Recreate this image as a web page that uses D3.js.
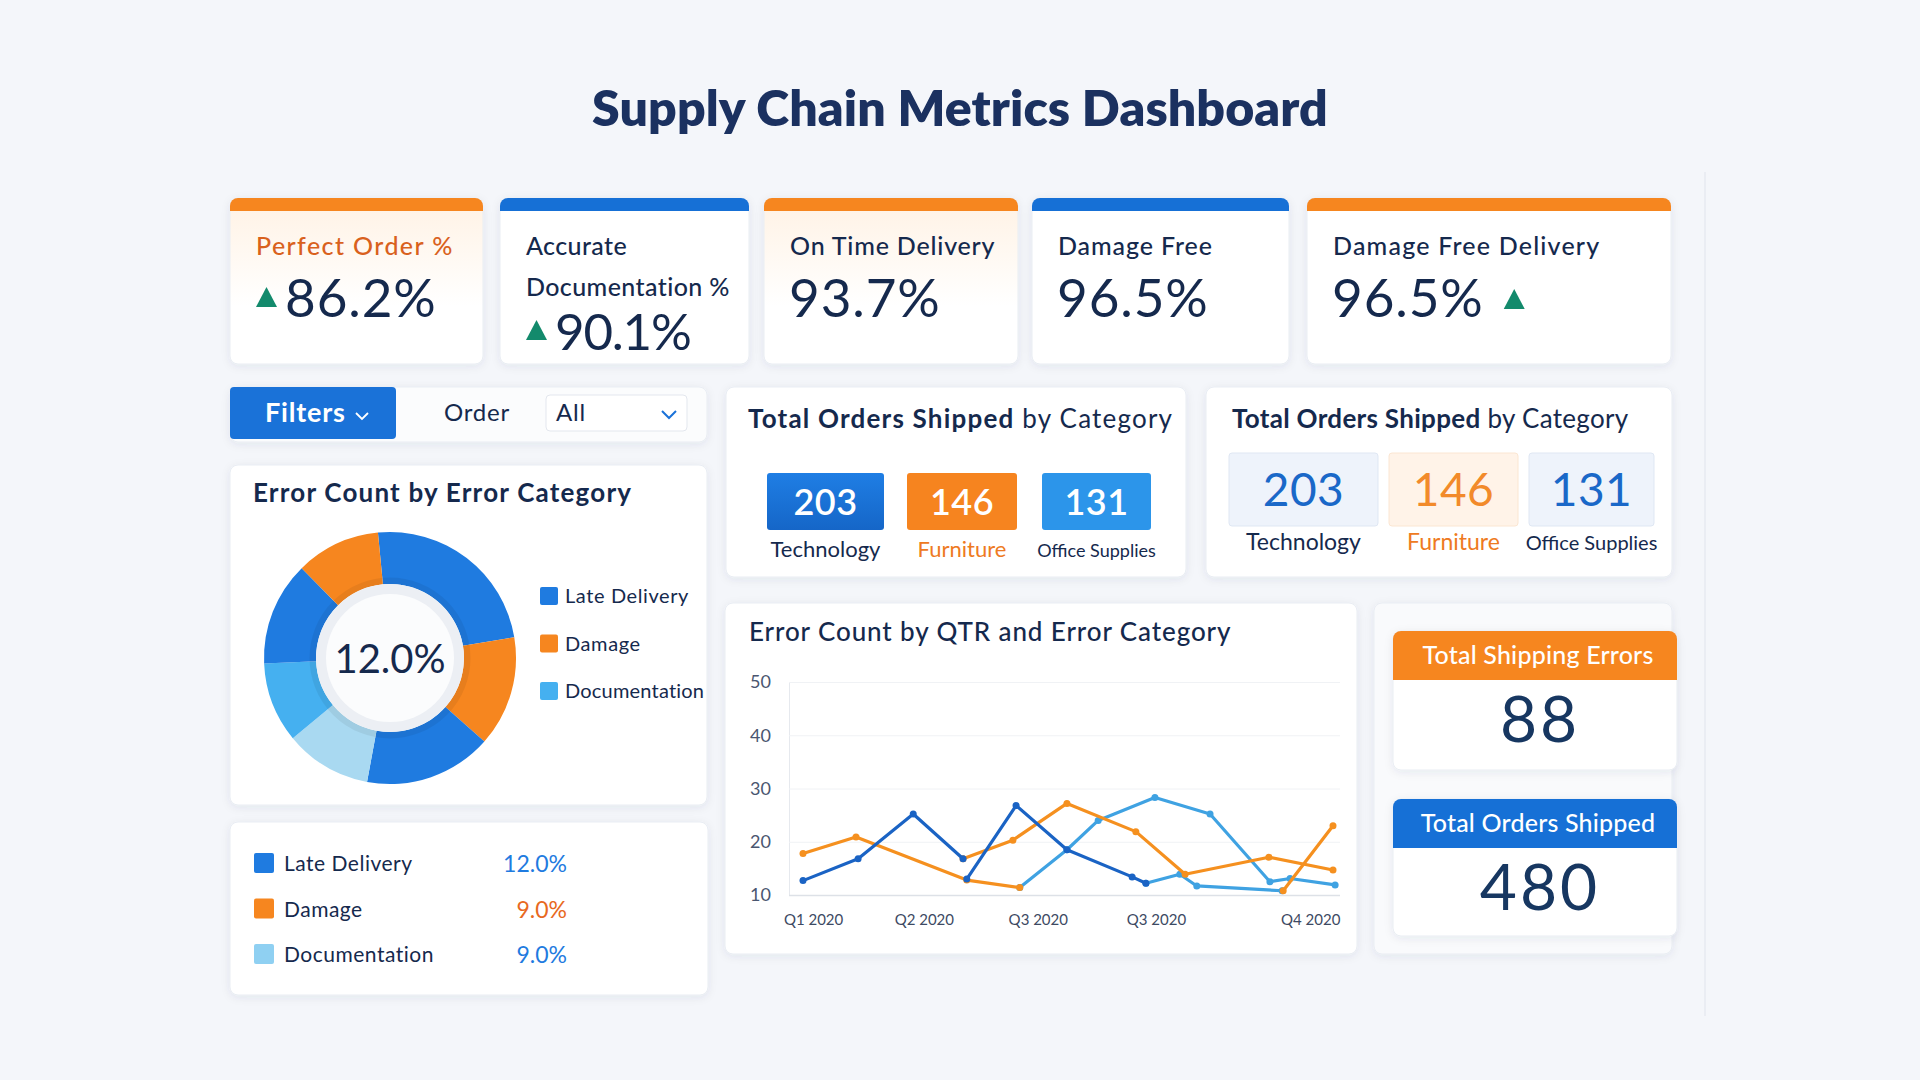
<!DOCTYPE html>
<html>
<head>
<meta charset="utf-8">
<script src="https://cdn.jsdelivr.net/npm/d3@7"></script>
<style>
  body { margin: 0; background: #f4f6fa; }
  svg { display: block; font-family: Lato, "Open Sans", sans-serif; }
</style>
</head>
<body>
<svg id="dash" width="1920" height="1080"></svg>
<script>
// ---- data ----
var kpiLabels = [["Perfect Order %"], ["Accurate", "Documentation %"], ["On Time Delivery"], ["Damage Free"], ["Damage Free Delivery"]];
var kpiValues = [86.2, 90.1, 93.7, 96.5, 96.5];
var kpiTrend = ["before", "before", "", "", "after"];

var filterOptions = ["All"];

var errCats = ["Late Delivery", "Damage", "Documentation"];
var errShares = [12.0, 9.0, 9.0];

// donut slices, clockwise from just left of 12 o'clock
var donutSegCats = ["Late Delivery", "Damage", "Late Delivery", "Documentation", "Documentation", "Late Delivery", "Damage"];
var donutSegValues = [86, 51, 59, 40, 37, 48, 39];

var catNames = ["Technology", "Furniture", "Office Supplies"];
var catOrders = [203, 146, 131];

var totalErrors = 88;
var totalShipped = 480;

var yTicks = [10, 20, 30, 40, 50];
var qtrLabels = ["Q1 2020", "Q2 2020", "Q3 2020", "Q3 2020", "Q4 2020"];
var qtrPos = [0.19, 2.28, 4.43, 6.66, 9.57];

// [period, errors], one inner array per drawn stretch of line
var lateSeries = [
  [[0, 12.7], [1.04, 16.8], [2.08, 25.2], [3.02, 16.8]],
  [[3.09, 13.0], [4.02, 26.8], [4.98, 18.5], [6.21, 13.4], [6.47, 12.2]]
];
var damageSeries = [
  [[0, 17.8], [1.0, 20.9], [3.09, 12.8], [4.09, 11.4]],
  [[3.02, 16.8], [3.96, 20.3], [4.98, 27.2], [6.28, 21.9], [7.21, 13.9], [8.79, 17.1], [10, 14.7]],
  [[9.06, 10.8], [10, 23.0]]
];
var docSeries = [
  [[4.09, 11.4], [4.98, 18.5], [5.57, 24.0], [6.64, 28.3], [7.68, 25.2], [8.81, 12.5], [9.19, 13.1], [10.04, 11.9]],
  [[6.47, 12.2], [7.11, 13.9], [7.43, 11.7], [9.04, 10.8]]
];

// ---- drawing ----
var NAVY = "#15294d", ORANGE = "#f6861f", BLUE = "#1f7be0", LBLUE = "#45b0f0", TEAL = "#138a6c";

var svg = d3.select("#dash");
var defs = svg.append("defs");

defs.append("filter").attr("id", "shadow")
    .attr("x", "-10%").attr("y", "-10%").attr("width", "120%").attr("height", "130%")
  .append("feDropShadow")
    .attr("dx", 0).attr("dy", 2).attr("stdDeviation", 4)
    .attr("flood-color", "#23365c").attr("flood-opacity", 0.08);

var tint = defs.append("linearGradient").attr("id", "tint")
    .attr("x1", 0).attr("y1", 0).attr("x2", 0).attr("y2", 1);
tint.append("stop").attr("offset", "0%").attr("stop-color", "#fff2e4");
tint.append("stop").attr("offset", "65%").attr("stop-color", "#ffffff");

var techGrad = defs.append("linearGradient").attr("id", "techGrad")
    .attr("x1", 0).attr("y1", 0).attr("x2", 0).attr("y2", 1);
techGrad.append("stop").attr("offset", "0%").attr("stop-color", "#1f7ee4");
techGrad.append("stop").attr("offset", "100%").attr("stop-color", "#1566c8");

svg.append("rect").attr("width", 1920).attr("height", 1080).attr("fill", "#f4f6fa");
svg.append("line").attr("x1", 1705).attr("x2", 1705).attr("y1", 172).attr("y2", 1016)
    .attr("stroke", "#e7eaf0").attr("stroke-width", 1.5);

var clipId = 0;
function card(x, y, w, h, fill, band) {
  var g = svg.append("g");
  g.append("rect").attr("x", x).attr("y", y).attr("width", w).attr("height", h)
      .attr("rx", 8).attr("fill", fill || "#ffffff")
      .attr("stroke", "#e9edf3").attr("filter", "url(#shadow)");
  if (band) {
    var id = "clip" + (clipId++);
    defs.append("clipPath").attr("id", id)
      .append("rect").attr("x", x).attr("y", y).attr("width", w).attr("height", h).attr("rx", 8);
    g.append("rect").attr("x", x).attr("y", y).attr("width", w).attr("height", band.h)
        .attr("fill", band.color).attr("clip-path", "url(#" + id + ")");
  }
  return g;
}

function txt(g, x, y, s, size, color, weight, anchor, ls) {
  return g.append("text").attr("x", x).attr("y", y).text(s)
      .attr("font-size", size).attr("fill", color)
      .attr("font-weight", weight || 400).attr("text-anchor", anchor || "start")
      .attr("letter-spacing", ls || 0);
}

function tri(g, x, yBottom) {
  g.append("path")
    .attr("d", "M" + x + "," + yBottom + "L" + (x + 21) + "," + yBottom + "L" + (x + 10.5) + "," + (yBottom - 20) + "Z")
    .attr("fill", TEAL);
}

// title
txt(svg, 960, 126, "Supply Chain Metrics Dashboard", 50, "#1b3160", 800, "middle", 0.1);

// KPI cards
var kpiX = [[230, 483], [500, 749], [764, 1018], [1032, 1289], [1307, 1671]];
var kpiBand = [ORANGE, "#1670d6", ORANGE, "#1670d6", ORANGE];
var labelLs = [1.4, 0.4, 0.8, 0.9, 1.2];
kpiValues.forEach(function (v, i) {
  var x0 = kpiX[i][0], w = kpiX[i][1] - x0;
  var tinted = kpiBand[i] === ORANGE && i < 3;
  var g = card(x0, 198, w, 166, tinted ? "url(#tint)" : "#ffffff", { h: 13, color: kpiBand[i] });
  var lx = x0 + 26;
  kpiLabels[i].forEach(function (l, j) {
    txt(g, lx, 255 + j * 41, l, 25, i === 0 ? "#d9611d" : NAVY, 500, "start", labelLs[i]);
  });
  var vy = kpiLabels[i].length > 1 ? 350 : 317;
  var vx = kpiTrend[i] === "before" ? lx + 29 : lx - 1;
  var t = txt(g, vx, vy, d3.format(".1f")(v) + "%", i === 1 ? 51 : 53, NAVY, 400, "start", i === 1 ? -1.2 : 0.9);
  if (kpiTrend[i] === "before") tri(g, lx, vy - 10);
  if (kpiTrend[i] === "after") tri(g, vx + t.node().getComputedTextLength() + 20, vy - 8);
});

// filter bar
var fb = card(230, 387, 477, 55, "#fbfcfd");
fb.append("rect").attr("x", 230).attr("y", 387).attr("width", 166).attr("height", 52)
    .attr("rx", 4).attr("fill", "#1a72d8");
txt(fb, 265, 422, "Filters", 27, "#ffffff", 700, "start", 0.8);
fb.append("path").attr("d", "M356,413 L362,419 L368,413").attr("fill", "none")
    .attr("stroke", "#ffffff").attr("stroke-width", 1.8);
txt(fb, 444, 421, "Order", 24, NAVY, 400, "start", 0.8);
fb.append("rect").attr("x", 546).attr("y", 395).attr("width", 141).attr("height", 36)
    .attr("rx", 4).attr("fill", "#ffffff").attr("stroke", "#e3e7ee");
txt(fb, 556, 421, filterOptions[0], 24, NAVY, 400, "start", 0.8);
fb.append("path").attr("d", "M662,411 L669,418 L676,411").attr("fill", "none")
    .attr("stroke", "#1a72d8").attr("stroke-width", 2);

// donut card
var dc = card(230, 465, 477, 340);
txt(dc, 253, 502, "Error Count by Error Category", 26, NAVY, 700, "start", 1.2);
var segColors = [BLUE, ORANGE, BLUE, "#a9d9f1", LBLUE, BLUE, ORANGE];
var pie = d3.pie().sort(null).value(function (d) { return d; })
    .startAngle(-5.5 * Math.PI / 180).endAngle(354.5 * Math.PI / 180);
var arc = d3.arc().innerRadius(74).outerRadius(126);
var dg = dc.append("g").attr("transform", "translate(390,658)");
dg.selectAll("path").data(pie(donutSegValues)).join("path")
    .attr("d", arc).attr("fill", function (d, i) { return segColors[i]; });
dg.append("circle").attr("r", 77).attr("fill", "none").attr("stroke", "#000").attr("stroke-opacity", 0.06).attr("stroke-width", 7);
dg.append("circle").attr("r", 74).attr("fill", "#eceff4");
dg.append("circle").attr("r", 64).attr("fill", "#fbfcfd");
txt(dg, 0, 15, d3.format(".1f")(errShares[0]) + "%", 40, NAVY, 400, "middle");

var legColors = [BLUE, ORANGE, LBLUE];
errCats.forEach(function (c, i) {
  var cy = 596 + i * 47.5;
  dc.append("rect").attr("x", 540).attr("y", cy - 9).attr("width", 18).attr("height", 18)
      .attr("rx", 2).attr("fill", legColors[i]);
  txt(dc, 565, cy + 7, c, 20, NAVY, 400, "start", i === 2 ? 0.2 : 0.6);
});

// legend table card
var lc = card(230, 822, 478, 173);
var tabColors = [BLUE, ORANGE, "#8fd0f2"];
var pctColors = [BLUE, "#e8691e", BLUE];
errCats.forEach(function (c, i) {
  var cy = 863 + i * 45.5;
  lc.append("rect").attr("x", 254).attr("y", cy - 10).attr("width", 20).attr("height", 20)
      .attr("rx", 2).attr("fill", tabColors[i]);
  txt(lc, 284, cy + 8, c, 21, NAVY, 400, "start", 0.5);
  txt(lc, 567, cy + 9, d3.format(".1f")(errShares[i]) + "%", 23, pctColors[i], 400, "end");
});

// category cards
function catTitle(g, x, ls) {
  var t = g.append("text").attr("x", x).attr("y", 428).attr("font-size", 26)
      .attr("fill", NAVY).attr("letter-spacing", ls);
  t.append("tspan").attr("font-weight", 700).text("Total Orders Shipped");
  t.append("tspan").attr("font-weight", 400).text(" by Category");
}
var c1 = card(726, 387, 460, 190);
catTitle(c1, 748, 1.2);
var c1Box = [[767, 884], [907, 1017], [1042, 1151]];
var c1Fill = ["url(#techGrad)", "#f6841f", "#2c95ea"];
catOrders.forEach(function (v, i) {
  var x0 = c1Box[i][0], x1 = c1Box[i][1], cx = (x0 + x1) / 2;
  c1.append("rect").attr("x", x0).attr("y", 473).attr("width", x1 - x0).attr("height", 57)
      .attr("rx", 3).attr("fill", c1Fill[i]);
  txt(c1, cx, 515, v, 36, "#ffffff", 600, "middle", 0.5);
  txt(c1, cx, 557, catNames[i], i === 2 ? 18 : 22, i === 1 ? "#ee7a22" : NAVY, 400, "middle");
});

var c2 = card(1206, 387, 466, 190);
catTitle(c2, 1232, 0.3);
var c2Box = [[1229, 1378], [1389, 1518], [1529, 1654]];
var c2Fill = ["#eef3fb", "#fff3e8", "#eef3fb"];
var c2Stroke = ["#dfe7f3", "#fbe6d2", "#dfe7f3"];
var c2Num = ["#1a68c8", "#f28a2a", "#1a68c8"];
catOrders.forEach(function (v, i) {
  var x0 = c2Box[i][0], x1 = c2Box[i][1], cx = (x0 + x1) / 2;
  c2.append("rect").attr("x", x0).attr("y", 453).attr("width", x1 - x0).attr("height", 73)
      .attr("rx", 3).attr("fill", c2Fill[i]).attr("stroke", c2Stroke[i]);
  txt(c2, cx, 506, v, 46, c2Num[i], 400, "middle", 0.5);
  txt(c2, cx, 550, catNames[i], i === 2 ? 20 : 23, i === 1 ? "#ee7a22" : NAVY, 400, "middle");
});

// line chart card
var lcd = card(725, 603, 632, 351);
txt(lcd, 749, 641, "Error Count by QTR and Error Category", 26, NAVY, 500, "start", 0.9);

var x = d3.scaleLinear().domain([0, 10]).range([803, 1333]);
var y = d3.scaleLinear().domain([10, 50]).range([895, 682]);

var yAxis = lcd.append("g").attr("transform", "translate(789,0)")
    .call(d3.axisLeft(y).tickValues(yTicks).tickSize(-551).tickPadding(18));
yAxis.select(".domain").attr("stroke", "#e6e9ee");
yAxis.selectAll(".tick line").attr("stroke", function (d) { return d === 10 ? "#dde1e7" : "#f0f2f5"; })
    .attr("stroke-width", function (d) { return d === 10 ? 1.5 : 1; });
yAxis.selectAll(".tick text").attr("font-size", 18).attr("fill", "#4a5670")
    .attr("font-family", "Lato, sans-serif");

var xAxis = lcd.append("g").attr("transform", "translate(0,895)")
    .call(d3.axisBottom(x).tickValues(qtrPos).tickSize(0).tickPadding(19)
      .tickFormat(function (d, i) { return qtrLabels[i]; }));
xAxis.select(".domain").remove();
xAxis.selectAll(".tick text").attr("font-size", 15).attr("fill", "#3d4a63")
    .attr("font-family", "Lato, sans-serif");

var line = d3.line().x(function (d) { return x(d[0]); }).y(function (d) { return y(d[1]); });
function drawSeries(segs, color) {
  segs.forEach(function (seg) {
    lcd.append("path").datum(seg).attr("d", line).attr("fill", "none")
        .attr("stroke", color).attr("stroke-width", 3.2)
        .attr("stroke-linejoin", "round").attr("stroke-linecap", "round");
    lcd.selectAll(null).data(seg).join("circle")
        .attr("cx", function (d) { return x(d[0]); }).attr("cy", function (d) { return y(d[1]); })
        .attr("r", 3.5).attr("fill", color);
  });
}
drawSeries(docSeries, "#3fa2e2");
drawSeries(damageSeries, "#f5901f");
drawSeries(lateSeries, "#1a63c4");

// totals column
var tc = card(1374, 603, 298, 351, "#f9fafc");
function totalCard(y0, h, label, value, color) {
  var g = card(1393, y0, 284, h, "#ffffff", { h: 49, color: color });
  txt(g, 1538, y0 + 33, label, 25, "#ffffff", 500, "middle", 0.2);
  txt(g, 1540, y0 + 111, value, 64, "#173761", 400, "middle", 3);
}
totalCard(631, 139, "Total Shipping Errors", totalErrors, ORANGE);
totalCard(799, 137, "Total Orders Shipped", totalShipped, "#1670d6");
</script>
</body>
</html>
